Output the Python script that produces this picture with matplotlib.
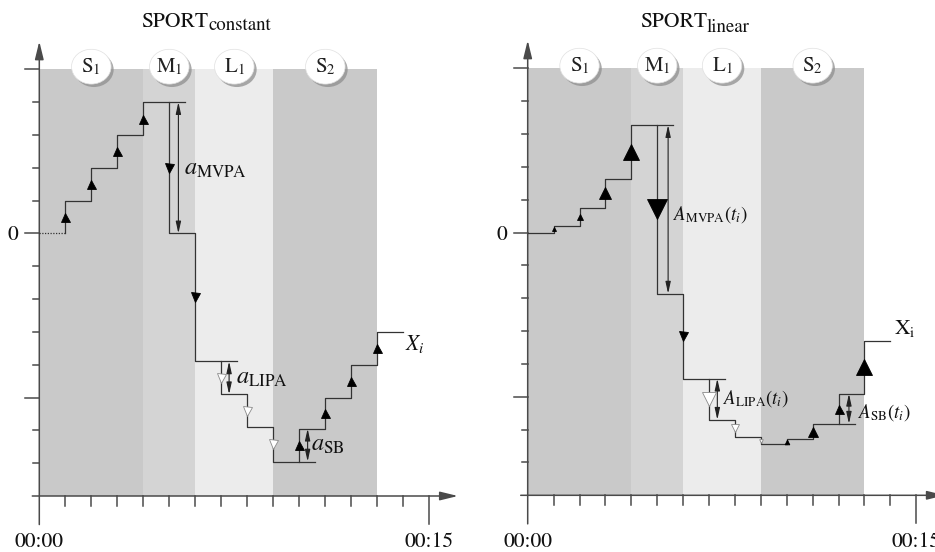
import numpy as np
import matplotlib
matplotlib.use("Agg")
import matplotlib.pyplot as plt
from matplotlib.patches import Rectangle, Ellipse

plt.rcParams['mathtext.fontset'] = 'stix'
plt.rcParams['font.family'] = ['STIXGeneral', 'Liberation Serif', 'DejaVu Serif']

W, H = 935, 552

# ---------------- data ----------------
seg_names = ['S', 'M', 'L', 'S']
seg_index = ['1', '1', '1', '2']
seg_start = [0, 4, 6, 9]
seg_end = [4, 6, 9, 13]
seg_colors = ['#c9c9c9', '#d4d4d4', '#ececec', '#c9c9c9']

edges = np.arange(0, 15)  # minutes 0..14
levels_const = [0, 1, 2, 3, 4, 0, -3.9, -4.9, -5.9, -6.95, -5.95, -5, -4, -3]
levels_lin = [0, 0.2, 0.76, 1.64, 3.27, -1.86, -4.45, -5.7, -6.22, -6.45, -6.3, -5.82, -4.91, -3.3]

white_steps = [7, 8, 9]        # LIPA steps drawn as open triangles
size_const = [9] * 13          # marker width (px) at steps t=1..13
size_lin = [4, 6.3, 11.7, 16.7, 19.3, 9, 14.3, 7.3, 3.7, 4.7, 9.3, 9, 16]

y_ticks = list(range(-7, 6))
y_long = [5, 0, -5]
x_ticks = list(range(1, 16))
time_labels = ['00:00', '00:15']

fig = plt.figure(figsize=(W / 100, H / 100), dpi=100)


def make_axes(x0, x15, y5, ym8):
    # pixel positions of t=0, t=15, y=5, y=-8
    ax = fig.add_axes([x0 / W, 1 - ym8 / H, (x15 - x0) / W, (ym8 - y5) / H])
    ax.set_xlim(0, 15)
    ax.set_ylim(-8, 5)
    ax.axis('off')
    return ax


def px(x, y):
    return x / W, 1 - y / H


def draw_panel(ax, levels, sizes, dotted_first, labels, xi_label, xi_pos, refs, arrows):
    axc = '#4a4a4a'
    # shaded segments
    for s, e, c, n, i in zip(seg_start, seg_end, seg_colors, seg_names, seg_index):
        ax.add_patch(Rectangle((s, -8), e - s, 13, facecolor=c, edgecolor='none', zorder=0))
        cx = (s + e) / 2
        ax.add_patch(Ellipse((cx + 0.1, 4.99), 1.52, 1.06, facecolor='#8f8f8f', edgecolor='none',
                             zorder=5, clip_on=False, alpha=0.75))
        ax.add_patch(Ellipse((cx, 5.08), 1.52, 1.06, facecolor='white', edgecolor='#e0e0e0',
                             lw=0.5, zorder=6, clip_on=False))
        ax.text(cx, 5.08, r'$\mathrm{%s}_{%s}$' % (n, i), fontsize=15, ha='center',
                va='center', zorder=7, color='#222222')
    # axes lines
    ax.annotate('', xy=(16.1, -8), xytext=(-0.27, -8),
                arrowprops=dict(arrowstyle='-|>,head_length=0.9,head_width=0.22', color=axc,
                                lw=1.1, shrinkA=0, shrinkB=0, mutation_scale=12),
                annotation_clip=False, zorder=3)
    ax.annotate('', xy=(0, 5.85), xytext=(0, -8.87),
                arrowprops=dict(arrowstyle='-|>,head_length=0.9,head_width=0.22', color=axc,
                                lw=1.1, shrinkA=0, shrinkB=0, mutation_scale=12),
                annotation_clip=False, zorder=3)
    for yt in y_ticks:
        L = 0.54 if yt in y_long else 0.23
        ax.plot([-L, 0], [yt, yt], color=axc, lw=1.1, clip_on=False, zorder=3)
    for xt in x_ticks:
        L = 0.85 if xt == 15 else 0.3
        ax.plot([xt, xt], [-8, -8 - L], color=axc, lw=1.1, clip_on=False, zorder=3)
    # step line
    xs = np.repeat(edges, 2)[1:-1]
    ys = np.repeat(levels, 2)
    lc = '#333333'
    if dotted_first:
        ax.plot(xs[:2], ys[:2], color=lc, lw=0.9, ls=(0, (1, 1.2)), zorder=4, clip_on=False)
        ax.plot(xs[1:], ys[1:], color=lc, lw=0.9, zorder=4, clip_on=False)
    else:
        ax.plot(xs, ys, color=lc, lw=0.9, zorder=4, clip_on=False)
    # reference lines for amplitudes
    for (yv, xa, xb) in refs:
        ax.plot([xa, xb], [yv, yv], color=lc, lw=0.9, zorder=4, clip_on=False)
    # triangles
    for k in range(1, len(levels)):
        lo, hi = levels[k - 1], levels[k]
        up = hi > lo
        white = k in white_steps
        ms = sizes[k - 1] * 0.72
        ax.plot(k, (lo + hi) / 2, marker='^' if up else 'v', ms=ms,
                mfc='white' if white else 'black', mec='#8a8a8a' if white else 'black',
                mew=0.6, zorder=6, clip_on=False)
    # double arrows
    for (xa, ya, yb) in arrows:
        ax.annotate('', xy=(xa, yb), xytext=(xa, ya),
                    arrowprops=dict(arrowstyle='<|-|>,head_length=1.0,head_width=0.22',
                                    color='#222222', lw=0.8, shrinkA=0, shrinkB=0,
                                    mutation_scale=7), zorder=5)
    # labels
    for (txt, xp, yp, fs) in labels:
        fig.text(*px(xp, yp), txt, fontsize=fs, ha='left', va='baseline', color='#111111')
    fig.text(*px(*xi_pos), xi_label, fontsize=15.5, ha='left', va='baseline', color='#111111')


# ---------------- left panel ----------------
axL = make_axes(39.3, 429.3, 69.3, 496)
draw_panel(axL, levels_const, size_const, True,
           [(r'$a_{\mathrm{MVPA}}$', 184, 175, 17.5),
            (r'$a_{\mathrm{LIPA}}$', 236, 384, 17.5),
            (r'$a_{\mathrm{SB}}$', 311, 451, 17.5)],
           r'$X_i$', (405, 350),
           [(4, 5, 5.6), (-3.9, 7, 7.6), (-6.95, 10, 10.6)],
           [(5.35, 0, 4), (7.3, -4.9, -3.9), (10.32, -6.95, -5.95)])

# ---------------- right panel ----------------
axR = make_axes(527.7, 916.3, 68.3, 495.3)
draw_panel(axR, levels_lin, size_lin, False,
           [(r'$A_{\mathrm{MVPA}}(t_i)$', 673, 220, 13.5),
            (r'$A_{\mathrm{LIPA}}(t_i)$', 723, 404, 13.5),
            (r'$A_{\mathrm{SB}}(t_i)$', 858, 418, 13.5)],
           r'$\mathrm{X}_{\mathrm{i}}$', (894, 334),
           [(3.27, 5, 5.6), (-4.45, 7, 7.6), (-5.82, 12, 12.65)],
           [(5.42, -1.86, 3.27), (7.32, -5.7, -4.45), (12.4, -5.82, -4.91)])

# titles
fig.text(*px(208.3, 27), 'SPORT', fontsize=15.5, ha='right', va='baseline', color='#111111')
fig.text(*px(208.3, 29.5), 'constant', fontsize=13.5, ha='left', va='baseline', color='#111111')
fig.text(*px(706.7, 27), 'SPORT', fontsize=15.5, ha='right', va='baseline', color='#111111')
fig.text(*px(706.7, 32), 'linear', fontsize=13.5, ha='left', va='baseline', color='#111111')

# tick labels
for x0, x15 in [(39.3, 429.3), (527.7, 916.3)]:
    fig.text(*px(x0 - 26, 240), '0', fontsize=15.5, ha='center', va='baseline', color='#111111')
    fig.text(*px(x0, 547), time_labels[0], fontsize=15.5, ha='center', va='baseline', color='#111111')
    fig.text(*px(x15, 547), time_labels[1], fontsize=15.5, ha='center', va='baseline', color='#111111')

fig.savefig('out.png', dpi=100)
